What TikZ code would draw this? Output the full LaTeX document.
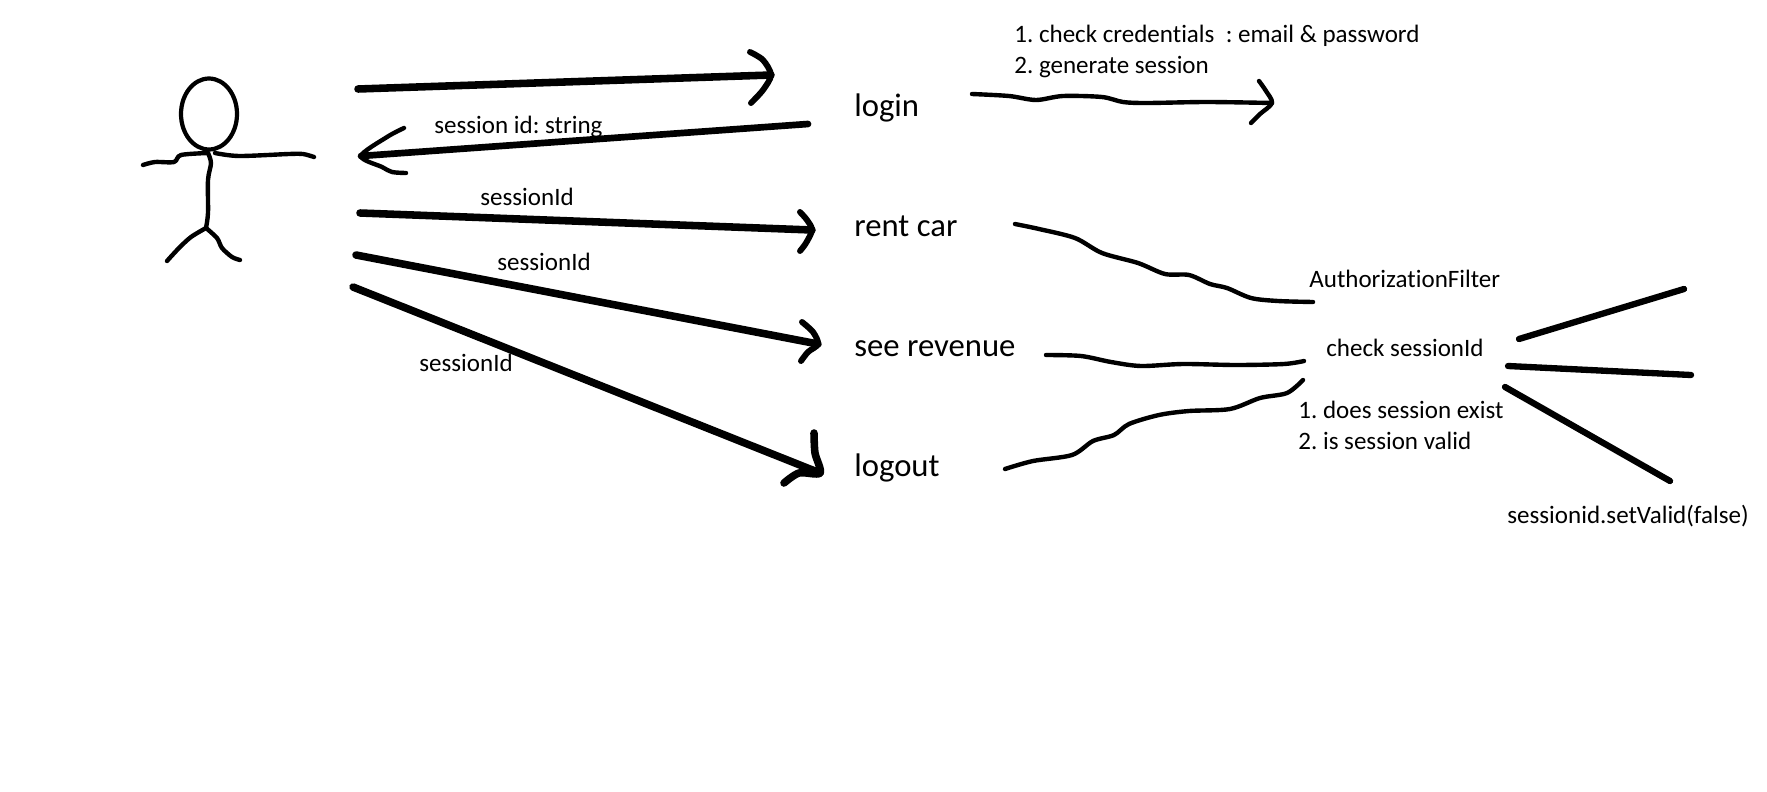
\documentclass[tikz,border=0pt]{standalone}
\usepackage{fontspec}
\usetikzlibrary{shapes.geometric}
\setmainfont[Ligatures=NoCommon]{Carlito}
\frenchspacing
\tikzset{
  smalltext/.style={inner sep=0pt, anchor=base west, font=\fontsize{14.25pt}{16pt}\selectfont},
  bigtext/.style={inner sep=0pt, anchor=base west, font=\fontsize{18.6pt}{21pt}\selectfont},
  pen/.style={line width=2.5pt, line cap=round, line join=round},
  widepen/.style={line width=4.3pt, line cap=round, line join=round},
  headpen/.style={line width=3.4pt, line cap=round, line join=round}
}
\begin{document}
\begin{tikzpicture}[x=0.02cm, y=-0.02cm]
\useasboundingbox (0,0) rectangle (1767,791);
% actor
\node[shape=ellipse, draw=black, line width=2.4pt, minimum width=1.12cm, minimum height=1.42cm, inner sep=0pt] (head) at (209,114) {};
\coordinate (neck) at (208,153);
\coordinate (hip) at (206,228);
\draw[pen] plot[smooth, tension=0.5] coordinates {(143,165) (155,162) (174,162) (181,155) (neck)};
\draw[pen] plot[smooth, tension=0.5] coordinates {(215,153) (239,156) (289,154) (303,154) (314,157)};
\draw[pen] plot[smooth, tension=0.5] coordinates {(neck) (211,163) (208,180) (208,213) (hip)};
\draw[pen] plot[smooth, tension=0.5] coordinates {(hip) (191,237) (179,248) (167,261)};
\draw[pen] plot[smooth, tension=0.5] coordinates {(hip) (217,238) (222,248) (232,257) (240,260)};
% use cases
\node[bigtext] (login) at (854,116) {login};
\node[bigtext] (rentcar) at (854,236) {rent car};
\node[bigtext] (revenue) at (854,356) {see revenue};
\node[bigtext] (logout) at (854,476) {logout};
% arrows from the actor
\coordinate (a1) at (358,89);
\coordinate (b1) at (771,75);
\coordinate (a2) at (808,124);
\coordinate (b2) at (361,156);
\coordinate (a3) at (360,213);
\coordinate (b3) at (812,230);
\coordinate (a4) at (356,255);
\coordinate (b4) at (818,344);
\coordinate (a5) at (353,287);
\coordinate (b5) at (820,473);
\path [widepen] (a1) edge (b1);
\path [headpen, line width=3.8pt] (a2) edge (b2);
\path [widepen] (a3) edge (b3);
\path [widepen] (a4) edge (b4);
\path [widepen] (a5) edge (b5);
\draw[headpen] plot[smooth, tension=0.5] coordinates {(750,52) (763,60) (b1) (763,90) (751,103)};
\draw[pen] plot[smooth, tension=0.5] coordinates {(404,128) (387,137) (b2) (382,167) (392,172) (406,173)};
\draw[headpen] plot[smooth, tension=0.5] coordinates {(800,212) (807,220) (b3) (806,243) (800,251)};
\draw[headpen] plot[smooth, tension=0.5] coordinates {(802,322) (813,332) (b4) (808,352) (801,361)};
\draw[widepen] plot[smooth, tension=0.5] coordinates {(814,433) (815,453) (b5) (799,473) (784,483)};
\node[smalltext] (idlabel) at (434,133) {session id: string};
\node[smalltext] (sid1) at (480,205) {sessionId};
\node[smalltext] (sid2) at (497,270) {sessionId};
\node[smalltext] (sid3) at (419,371) {sessionId};
% login step
\node[smalltext] (check) at (1014,42) {1. check credentials\ \ : email \& password};
\node[smalltext] (generate) at (1014,73) {2. generate session};
\coordinate (c1) at (972,94);
\coordinate (c2) at (1272,103);
\draw[pen] plot[smooth, tension=0.5] coordinates {(c1) (1009,96) (1036,100) (1063,96) (1102,97) (1123,102) (1147,103) (1207,102) (c2)};
\draw[pen] plot[smooth, tension=0.5] coordinates {(1259,81) (1266,91) (c2) (1260,114) (1251,123)};
% filter
\node[smalltext] (filter) at (1309,287) {AuthorizationFilter};
\node[smalltext] (checkid) at (1326,356) {check sessionId};
\node[smalltext] (exist) at (1298,418) {1. does session exist};
\node[smalltext] (valid) at (1298,449) {2. is session valid};
\node[smalltext] (setvalid) at (1507,523) {sessionid.setValid(false)};
\coordinate (d1) at (1015,224);
\coordinate (d2) at (1313,302);
\coordinate (e1) at (1046,355);
\coordinate (e2) at (1304,361);
\coordinate (f1) at (1005,469);
\coordinate (f2) at (1303,380);
\draw[pen] plot[smooth, tension=0.5] coordinates {(d1) (1039,229) (1075,238) (1102,253) (1138,263) (1165,274) (1189,275) (1210,284) (1227,288) (1251,298) (1278,301) (d2)};
\draw[pen] plot[smooth, tension=0.5] coordinates {(e1) (1081,356) (1111,362) (1141,366) (1183,364) (1236,365) (1284,364) (e2)};
\draw[pen] plot[smooth, tension=0.5] coordinates {(f1) (1033,461) (1072,455) (1093,441) (1114,435) (1129,424) (1159,415) (1189,411) (1230,409) (1260,398) (1287,393) (f2)};
% branches
\coordinate (g1) at (1519,339);
\coordinate (g2) at (1684,289);
\coordinate (h1) at (1508,366);
\coordinate (h2) at (1691,375);
\coordinate (i1) at (1505,387);
\coordinate (i2) at (1670,481);
\path [widepen, line width=3.6pt] (g1) edge (g2);
\path [widepen, line width=3.6pt] (h1) edge (h2);
\path [widepen, line width=3.6pt] (i1) edge (i2);
\end{tikzpicture}
\end{document}
